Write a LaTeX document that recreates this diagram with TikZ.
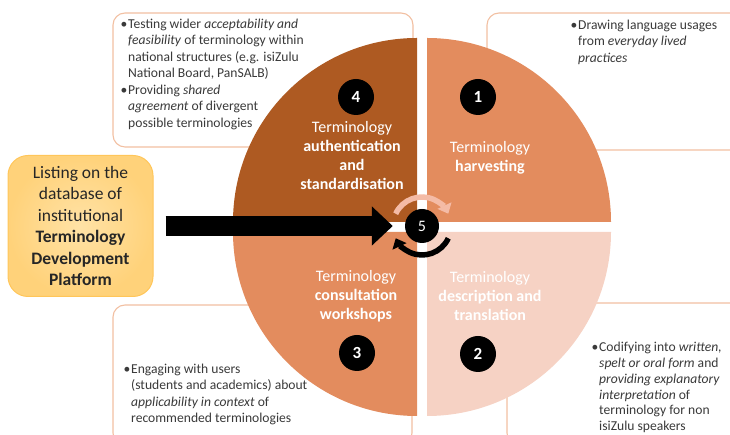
\documentclass[tikz,border=0pt]{standalone}
\usepackage{fontspec}
\setmainfont{Carlito}
\usetikzlibrary{arrows.meta}

\definecolor{darkq}{HTML}{AE5A22}
\definecolor{midq}{HTML}{E38C5E}
\definecolor{paleq}{HTML}{F6D2C4}
\definecolor{boxline}{HTML}{F2C0A2}
\definecolor{spinpink}{HTML}{F4BBA6}
\definecolor{bodytext}{HTML}{3A3A3A}
\definecolor{platline}{HTML}{FFC65A}
\definecolor{platin}{HTML}{FFE2A6}
\definecolor{platout}{HTML}{FFD27A}

\newcommand\bul[1]{\makebox[7.5pt][l]{\textbullet}\begin{tabular}[t]{@{}l@{}}#1\end{tabular}}

\begin{document}
\begin{tikzpicture}[x=1pt,y=1pt,
    notebox/.style={draw=boxline,line width=1.1pt,rounded corners=12pt,fill=white},
    bullettext/.style={anchor=north west,inner sep=0pt,align=left,text=bodytext,
      font=\fontsize{13.6}{16.3}\selectfont},
    quadtext/.style={align=center,text=white,font=\fontsize{16}{19}\selectfont},
    spin/.style={line width=5.5pt,-{Triangle[length=9pt,width=15pt]}}]

  \useasboundingbox (0,0) rectangle (730,435);
  \clip (0,0) rectangle (730,435);

  % note boxes behind the wheel
  \node[notebox,minimum width=300,minimum height=134] (tlbox) at (263,355) {};
  \node[notebox,minimum width=258,minimum height=137] (trbox) at (616,353.5) {};
  \node[notebox,minimum width=299,minimum height=140] (blbox) at (262.5,60) {};
  \node[notebox,minimum width=238,minimum height=142] (brbox) at (626,61) {};

  % the four quarters
  \fill[midq]  (427,213) -- ++(184,0) arc (0:90:184) -- cycle;
  \fill[darkq] (417,213) -- ++(0,184) arc (90:180:184) -- cycle;
  \fill[midq]  (417,203) -- ++(-184,0) arc (180:270:184) -- cycle;
  \fill[paleq] (427,203) -- ++(0,-184) arc (270:360:184) -- cycle;

  \node[quadtext] (q1) at (490,277.5) {Terminology\\ \textbf{harvesting}};
  \node[quadtext] (q4) at (352,279) {Terminology\\ \textbf{authentication}\\ \textbf{and}\\ \textbf{standardisation}};
  \node[quadtext] (q3) at (356,139) {Terminology\\ \textbf{consultation}\\ \textbf{workshops}};
  \node[quadtext] (q2) at (490,139) {Terminology\\ \textbf{description and}\\ \textbf{translation}};

  \begin{scope}[every node/.style={circle,fill=black,text=white,minimum size=36pt,inner sep=0pt,
      font=\fontsize{17}{20}\selectfont\bfseries}]
    \node (n1) at (478,338) {1};
    \node (n2) at (478,81)  {2};
    \node (n3) at (357,82)  {3};
    \node (n4) at (356,338) {4};
    \node[minimum size=34pt,font=\fontsize{16}{19}\selectfont] (n5) at (422,209) {5};
  \end{scope}

  \draw[spin,spinpink] ([shift={(155:29)}]n5.center) arc (155:25:29);
  \draw[spin,black] ([shift={(-25:29)}]n5.center) arc (-25:-155:29);

  % bullet texts
  \node[bullettext] (tl1) at (120.5,418) {\bul{Testing wider \textit{acceptability and}\\ \textit{feasibility} of terminology within\\ national structures (e.g. isiZulu\\ National Board, PanSALB)}};
  \node[bullettext] (tl2) at (120.5,352) {\bul{Providing \textit{shared}\\ \textit{agreement} of divergent\\ possible terminologies}};
  \node[bullettext] (tr1) at (570.5,417) {\bul{Drawing language usages\\ from \textit{everyday lived}\\ \textit{practices}}};
  \node[bullettext] (bl1) at (123.5,73) {\bul{Engaging with users\\ (students and academics) about\\ \textit{applicability in context} of\\ recommended terminologies}};
  \node[bullettext,font=\fontsize{13.6}{15.8}\selectfont] (br1) at (591.5,94.5) {\bul{Codifying into \textit{written,}\\ \textit{spelt or oral form} and\\ \textit{providing explanatory}\\ \textit{interpretation} of\\ terminology for non\\ isiZulu speakers}};

  % platform box and arrow
  \node[draw=platline,line width=1pt,rounded corners=20pt,inner color=platin,outer color=platout,
    minimum width=145,minimum height=141,align=center,text=black!85,
    font=\fontsize{17.5}{21.5}\selectfont] (lst) at (80.5,209)
    {Listing on the\\ database of\\ institutional\\ \textbf{Terminology}\\ \textbf{Development}\\ \textbf{Platform}};

  \draw[line width=20pt,-{Triangle[length=21pt,width=38pt]}] ([xshift=12pt]lst.east) -- ([xshift=-12pt]n5.west);

\end{tikzpicture}
\end{document}
